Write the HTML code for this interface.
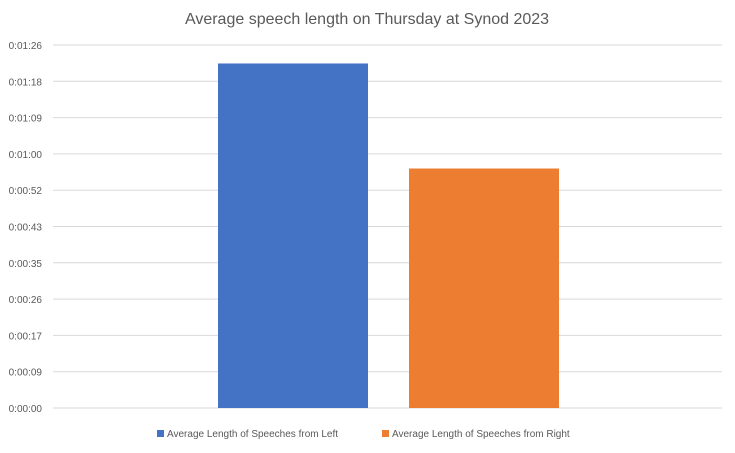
<!DOCTYPE html>
<html><head><meta charset="utf-8"><style>
body{margin:0;background:#fff;}
svg text{font-family:"Liberation Sans",sans-serif;fill:#595959;}
</style></head><body>
<svg id="chart" width="735" height="448" viewBox="0 0 735 448">
<text x="367" y="24" font-size="16" text-anchor="middle">Average speech length on Thursday at Synod 2023</text>
<g id="grid"></g><g id="bars"></g>
<g>
<rect x="157" y="430" width="7" height="7" fill="#4472C4"/>
<text x="167" y="437" font-size="10">Average Length of Speeches from Left</text>
<rect x="382" y="430" width="7" height="7" fill="#ED7D31"/>
<text x="392" y="437" font-size="10">Average Length of Speeches from Right</text>
</g>
</svg>
<script>
const series = ["Average Length of Speeches from Left","Average Length of Speeches from Right"];
const values = [82, 57];
const tickLabels = ["0:00:00","0:00:09","0:00:17","0:00:26","0:00:35","0:00:43","0:00:52","0:01:00","0:01:09","0:01:18","0:01:26"];
const colors = ["#4472C4","#ED7D31"];
const NS="http://www.w3.org/2000/svg";
const y0=408, y1=45, maxV=86.4, x0=53, x1=722;
const y=v=>y0-(v/maxV)*(y0-y1);
const grid=document.getElementById('grid');
tickLabels.forEach((t,i)=>{
  const v=i*8.64, yy=y(v);
  const l=document.createElementNS(NS,'line');
  
  
  l.setAttribute('x1',x0);l.setAttribute('x2',x1);l.setAttribute('y1',yy);l.setAttribute('y2',yy);
  l.setAttribute('stroke','#d9d9d9');l.setAttribute('stroke-width','1');
  grid.appendChild(l);
  const tx=document.createElementNS(NS,'text');
  
  
  tx.setAttribute('x',42);tx.setAttribute('y',yy+4);tx.setAttribute('font-size','10');tx.setAttribute('text-anchor','end');
  tx.textContent=t;grid.appendChild(tx);
});
const bars=document.getElementById('bars');
const bx=[218,409], bw=150;
values.forEach((v,i)=>{
  const r=document.createElementNS(NS,'rect');
  
  
  r.setAttribute('x',bx[i]);r.setAttribute('width',bw);
  r.setAttribute('y',y(v));r.setAttribute('height',y0-y(v));
  r.setAttribute('fill',colors[i]);
  bars.appendChild(r);
});
</script>
</body></html>
